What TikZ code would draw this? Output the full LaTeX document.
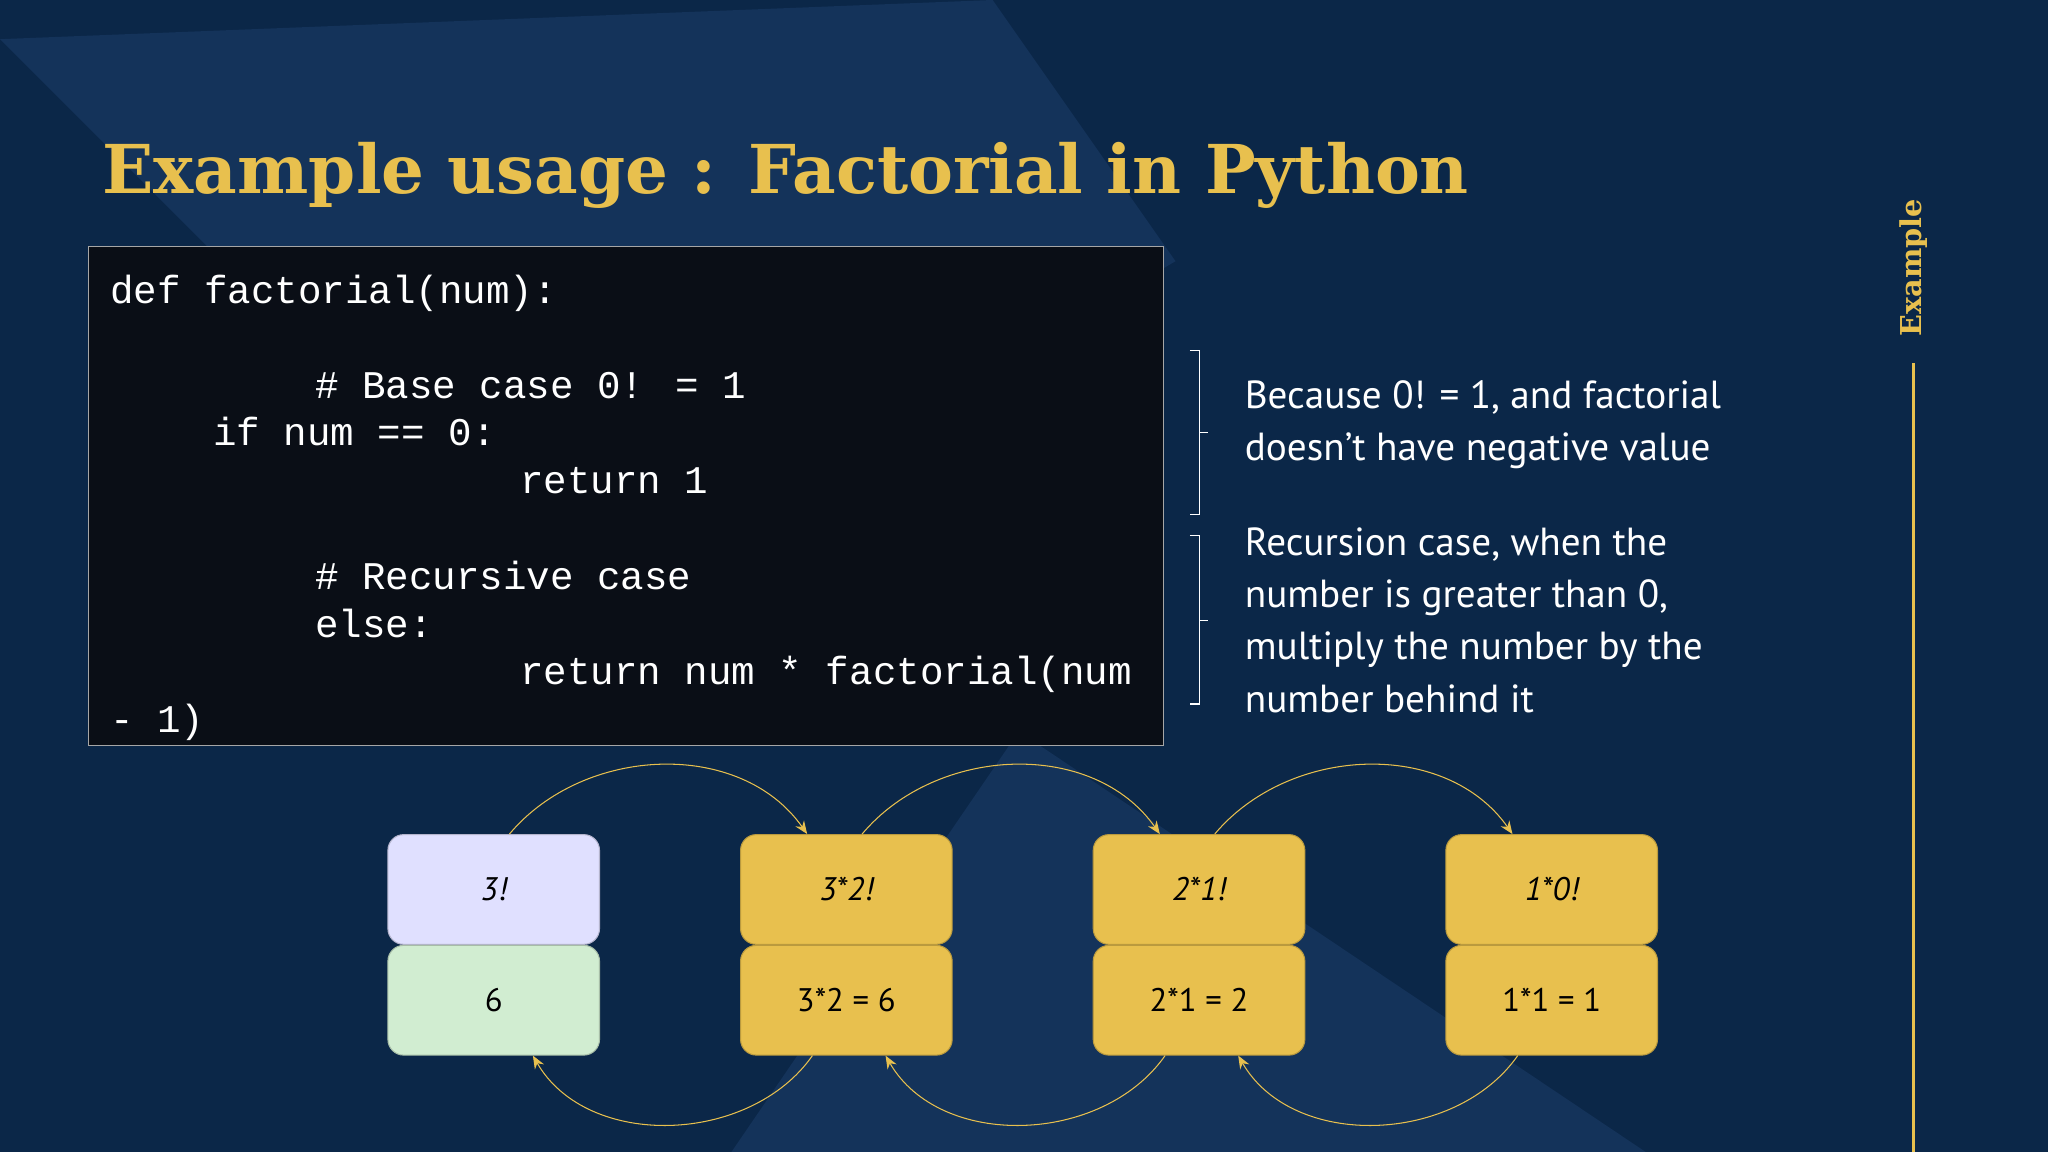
\documentclass[tikz,border=0pt]{standalone}
\usepackage{fontspec}
\setmainfont{PT Sans}
\newfontfamily\titlefont{DejaVu Serif}
\newfontfamily\codefont{Liberation Mono}
\usetikzlibrary{positioning, arrows.meta}
\definecolor{navy}{HTML}{0B2748}
\definecolor{navylight}{HTML}{14335A}
\definecolor{gold}{HTML}{E8C04E}
\definecolor{codebg}{HTML}{0A0E16}
\tikzset{
		>={Stealth[length=5pt,width=4pt]},
		cell/.style={draw=#1!80!black, fill=#1, rounded corners=6pt, minimum width=81pt, minimum height=42pt, font=\itshape\fontsize{12.5}{14}\selectfont},
		codeline/.style={anchor=base west, inner sep=0pt, text=white, font=\codefont\fontsize{15}{18}\selectfont},
		note/.style={anchor=north west, text=white, align=left, font=\fontsize{15}{20}\selectfont},
		link/.style={gold, thin, ->}
	}
\colorlet{blue cell}{blue!12!white}
\colorlet{green cell}{green!60!black!18!white}
\begin{document}
\begin{tikzpicture}[x=0.5pt, y=-0.5pt]
		% background
		\fill[navy] (0,0) rectangle (1568,882);
		\useasboundingbox (0,0) rectangle (1568,882);
		\fill[navylight] (0,30) -- (760,0) -- (900,200) -- (440,470) -- cycle;
		\fill[navylight] (780,560) -- (560,882) -- (1260,882) -- cycle;
		% title
		\node[anchor=base west, inner sep=0pt, text=gold, font=\titlefont\bfseries\fontsize{25.8}{30}\selectfont] (title) at (78,148) {Example usage : Factorial in Python};
		\node[rotate=90, text=gold, font=\titlefont\bfseries\fontsize{11}{13}\selectfont] (side) at (1465,205) {Example};
		\draw[gold, line width=1.5pt] (1465,278) -- (1465,882);
		% code
		\draw[gray!70, fill=codebg] (68,189) rectangle (891,571);
		\node[codeline] (l1) at (84,232) {def factorial(num):};
		\node[codeline] (l2) at (241,305) {\# Base case 0! = 1};
		\node[codeline] (l3) at (163,341) {if num == 0:};
		\node[codeline] (l4) at (398,378) {return 1};
		\node[codeline] (l5) at (241,451) {\# Recursive case};
		\node[codeline] (l6) at (241,488) {else:};
		\node[codeline] (l7) at (398,524) {return num * factorial(num};
		\node[codeline] (l8) at (84,561) {- 1)};
		% notes
		\draw[white] (911,268) -- (918,268) -- (918,394) -- (911,394) (918,331) -- (925,331);
		\draw[white] (911,410) -- (918,410) -- (918,539) -- (911,539) (918,475) -- (925,475);
		\node[note] (base) at (946,284) {Because 0! = 1, and factorial\\doesn’t have negative value};
		\node[note] (rec) at (946,397) {Recursion case, when the\\number is greater than 0,\\multiply the number by the\\number behind it};
		% cells
		\node[cell=blue cell] (q3) at (378,681) {3!};
		\node[cell=green cell, below=0pt of q3] (a3) {\upshape 6};
		\node[cell=gold] (q2) at (648,681) {3*2!};
		\node[cell=gold, below=0pt of q2] (a2) {\upshape 3*2 = 6};
		\node[cell=gold] (q1) at (918,681) {2*1!};
		\node[cell=gold, below=0pt of q1] (a1) {\upshape 2*1 = 2};
		\node[cell=gold] (q0) at (1188,681) {1*0!};
		\node[cell=gold, below=0pt of q0] (a0) {\upshape 1*1 = 1};
		% calls and returns
		\foreach \from/\to in {q3/q2, q2/q1, q1/q0}
			\draw[link] ([xshift=6pt]\from.north) to[out=50, in=125] ([xshift=-15pt]\to.north);
		\foreach \from/\to in {a2/a3, a1/a2, a0/a1}
			\draw[link] ([xshift=-13pt]\from.south) to[out=-125, in=-60] ([xshift=15pt]\to.south);
	\end{tikzpicture}
\end{document}
